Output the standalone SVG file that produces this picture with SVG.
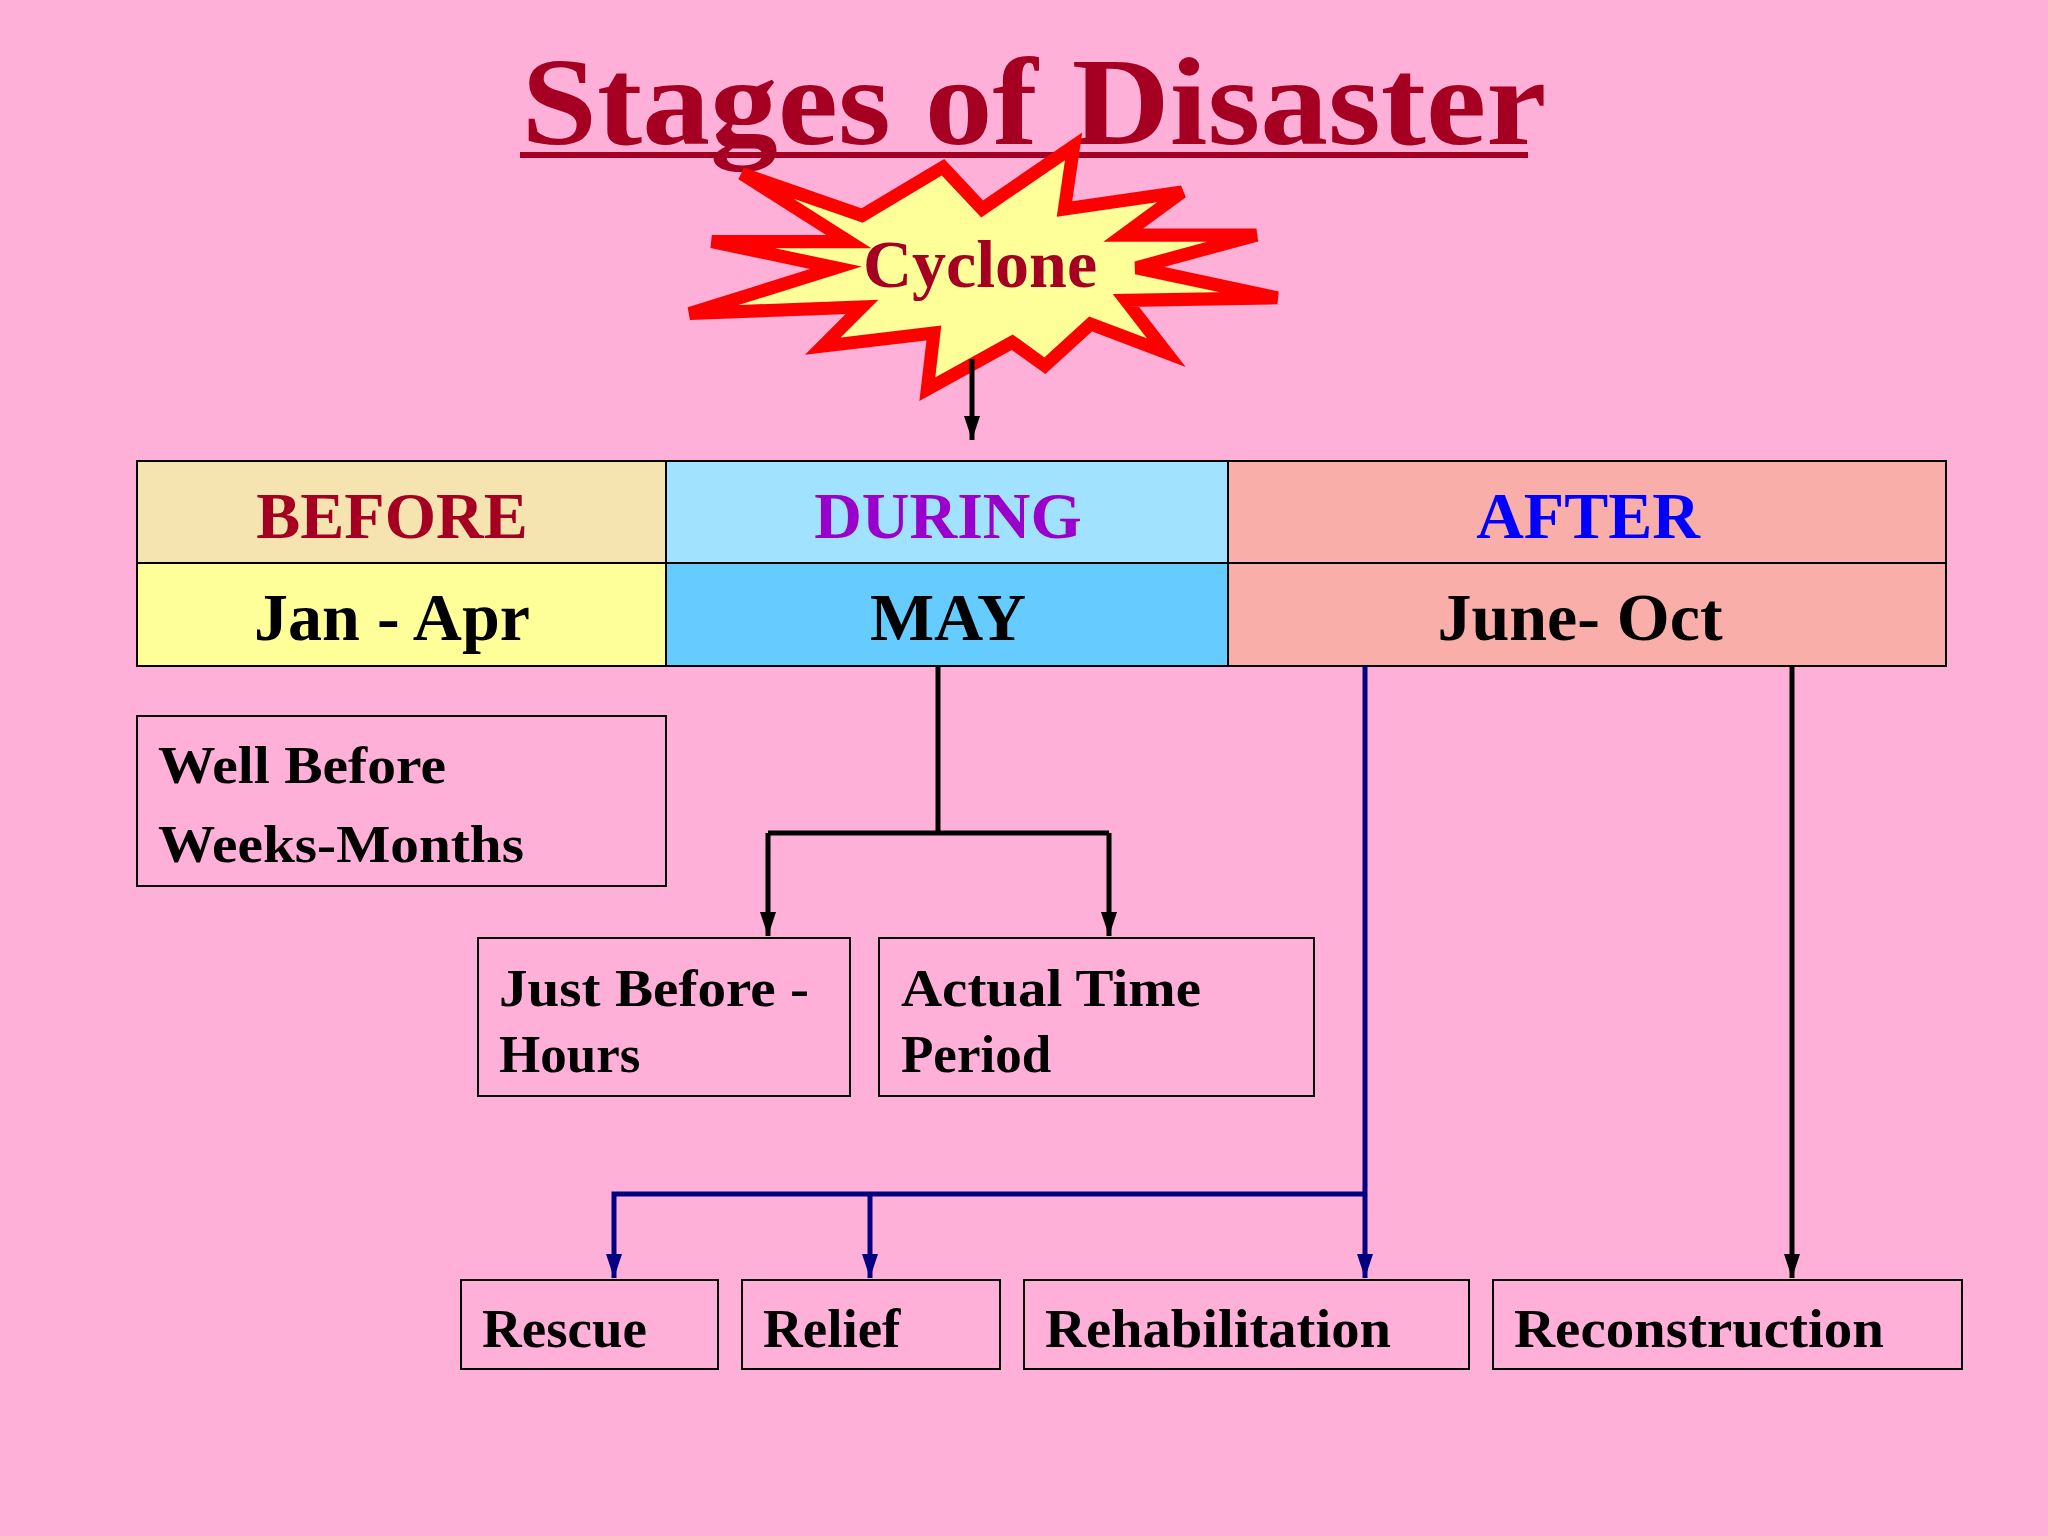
<svg xmlns="http://www.w3.org/2000/svg" width="2048" height="1536" viewBox="0 0 2048 1536">
<defs>
<style>
.t{font-family:"Liberation Serif",serif;font-weight:bold}
.bx{fill:none;stroke:#000;stroke-width:2}
.c{stroke:#000;stroke-width:2}
</style>
<marker id="bk" markerWidth="24" markerHeight="20" refX="24" refY="10" orient="auto" markerUnits="userSpaceOnUse"><path d="M0,2 L24,10 L0,18 Z" fill="#000"/></marker>
<marker id="bl" markerWidth="24" markerHeight="20" refX="24" refY="10" orient="auto" markerUnits="userSpaceOnUse"><path d="M0,2 L24,10 L0,18 Z" fill="#000080"/></marker>
</defs>
<rect width="2048" height="1536" fill="#FFB0D9"/>
<g id="title">
<text x="1034" y="144" class="t" font-size="124" fill="#A50021" text-anchor="middle" textLength="1025" lengthAdjust="spacingAndGlyphs">Stages of Disaster</text>
<rect x="520" y="152" width="1008" height="6" fill="#A50021"/>
</g>
<g id="cyclone">
<polygon transform="scale(1.3061)" fill="#FFFF99" stroke="#FF0000" stroke-width="10" stroke-linejoin="miter" points="568,133 660,165 722,128 752,160 822,112 815,160 905,147 860,180 962,180 870,205 978,228 862,230 893,270 835,248 800,280 775,262 710,298 715,255 630,265 660,235 528,240 640,205 545,185 650,185"/>
<text x="980" y="287" class="t" font-size="68" fill="#A50021" text-anchor="middle">Cyclone</text>
</g>
<g id="table">
<rect x="137" y="461" width="529" height="102" fill="#F5E4B0" class="c"/>
<rect x="137" y="563" width="529" height="103" fill="#FFFF99" class="c"/>
<rect x="666" y="461" width="562" height="102" fill="#A0E2FF" class="c"/>
<rect x="666" y="563" width="562" height="103" fill="#66CCFF" class="c"/>
<rect x="1228" y="461" width="718" height="102" fill="#FAAEAA" class="c"/>
<rect x="1228" y="563" width="718" height="103" fill="#FAAEAA" class="c"/>
<text x="392" y="538" class="t" font-size="66" fill="#A50021" text-anchor="middle">BEFORE</text>
<text x="948" y="538" class="t" font-size="66" fill="#9900CC" text-anchor="middle">DURING</text>
<text x="1588" y="538" class="t" font-size="66" fill="#0000FF" text-anchor="middle">AFTER</text>
<text x="392" y="640" class="t" font-size="68" fill="#000" text-anchor="middle">Jan - Apr</text>
<text x="948" y="640" class="t" font-size="68" fill="#000" text-anchor="middle">MAY</text>
<text x="1580" y="640" class="t" font-size="68" fill="#000" text-anchor="middle">June- Oct</text>
</g>
<g id="wellbefore">
<rect x="137" y="716" width="529" height="170" class="bx"/>
<text x="158" y="783" class="t" font-size="53" textLength="288" lengthAdjust="spacingAndGlyphs">Well Before</text>
<text x="158" y="862" class="t" font-size="53" textLength="366" lengthAdjust="spacingAndGlyphs">Weeks-Months</text>
</g>
<g id="justbefore">
<rect x="478" y="938" width="372" height="158" class="bx"/>
<text x="499" y="1006" class="t" font-size="53" textLength="310" lengthAdjust="spacingAndGlyphs">Just Before -</text>
<text x="499" y="1072" class="t" font-size="53">Hours</text>
</g>
<g id="actual">
<rect x="879" y="938" width="435" height="158" class="bx"/>
<text x="901" y="1006" class="t" font-size="53" textLength="300" lengthAdjust="spacingAndGlyphs">Actual Time</text>
<text x="901" y="1072" class="t" font-size="53">Period</text>
</g>
<g id="rescue"><rect x="461" y="1280" width="257" height="89" class="bx"/><text x="482" y="1347" class="t" font-size="55">Rescue</text></g>
<g id="relief"><rect x="742" y="1280" width="258" height="89" class="bx"/><text x="763" y="1347" class="t" font-size="55">Relief</text></g>
<g id="rehab"><rect x="1024" y="1280" width="445" height="89" class="bx"/><text x="1045" y="1347" class="t" font-size="55" textLength="346" lengthAdjust="spacingAndGlyphs">Rehabilitation</text></g>
<g id="recon"><rect x="1493" y="1280" width="469" height="89" class="bx"/><text x="1514" y="1347" class="t" font-size="55" textLength="370" lengthAdjust="spacingAndGlyphs">Reconstruction</text></g>
<g id="connectors" fill="none" stroke-width="5">
<path d="M972,359 V440" stroke="#000" marker-end="url(#bk)"/>
<path d="M938,666 V833" stroke="#000"/>
<path d="M768,833 H1109" stroke="#000"/>
<path d="M768,833 V936" stroke="#000" marker-end="url(#bk)"/>
<path d="M1109,833 V936" stroke="#000" marker-end="url(#bk)"/>
<path d="M1365,666 V1278" stroke="#000080" marker-end="url(#bl)"/>
<path d="M1365,1194 H614 V1278" stroke="#000080" marker-end="url(#bl)"/>
<path d="M870,1194 V1278" stroke="#000080" marker-end="url(#bl)"/>
<path d="M1792,666 V1278" stroke="#000" marker-end="url(#bk)"/>
</g>
</svg>
